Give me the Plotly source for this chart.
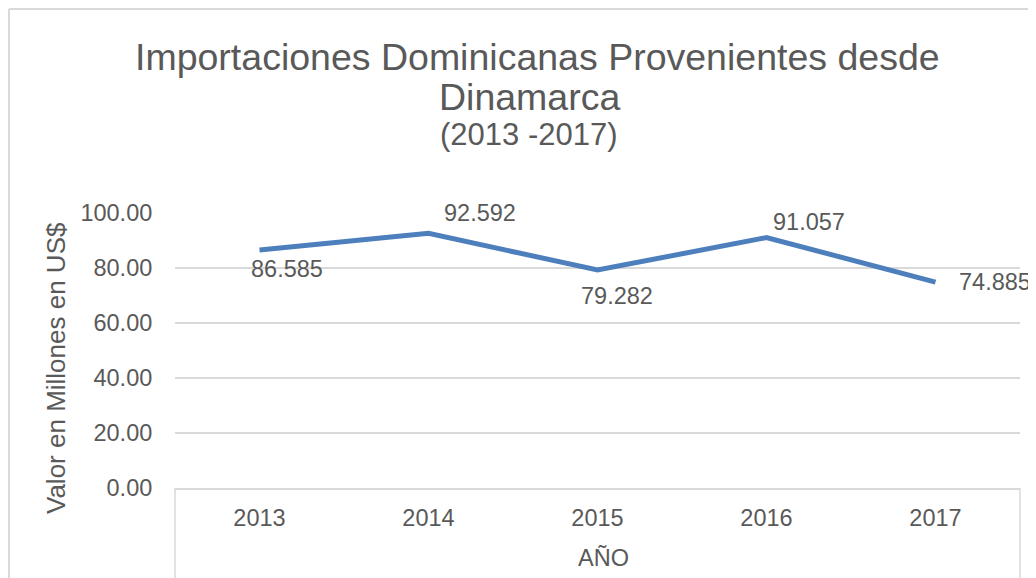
import plotly.graph_objects as go

years = ["2013", "2014", "2015", "2016", "2017"]
values = [86.585, 92.592, 79.282, 91.057, 74.885]
value_labels = ["86.585", "92.592", "79.282", "91.057", "74.885"]
y_ticks = [0, 20, 40, 60, 80, 100]

# label offsets in pixels (dx, dy) relative to the point
label_offsets = [(27, -19), (51, 20), (19, -26), (42, 16), (59, 0)]

# page body has an 8px margin; target picture coordinates are shifted by it
OFF = 8
W, H = 1036 - OFF, 578 - OFF
L, R, T, B = 175 - OFF, 16, 213 - OFF, 90
pw = W - L - R
ph = H - T - B

TXT = "#595959"
GRID = "#D9D9D9"
FONT = "Liberation Sans, Arial, sans-serif"

fig = go.Figure()
fig.add_trace(go.Scatter(
    x=years, y=values, mode="lines",
    line=dict(color="#4E7FBD", width=5),
    hoverinfo="skip", showlegend=False,
))

annotations = []
for i, (v, lab, (dx, dy)) in enumerate(zip(values, value_labels, label_offsets)):
    annotations.append(dict(
        x=i, y=v, xref="x", yref="y", text=lab, showarrow=False,
        xanchor="center", yanchor="middle",
        xshift=dx, yshift=dy, font=dict(size=23.5, color=TXT, family=FONT),
    ))

def px_x(p):
    return (p - OFF - L) / pw

def px_y(p):
    return (H - B - (p - OFF)) / ph

def ann(text, x, y, size, **kw):
    d = dict(x=px_x(x), y=px_y(y), xref="paper", yref="paper", showarrow=False,
             xanchor="center", yanchor="middle", text=text,
             font=dict(size=size, color=TXT, family=FONT))
    d.update(kw)
    return d

annotations += [
    ann("Importaciones Dominicanas Provenientes desde", 537, 57, 37.5),
    ann("Dinamarca", 529, 97, 37.5),
    ann("(2013 -2017)", 529, 135, 31),
    ann("Valor en Millones en US$", 56, 368, 26, textangle=-90),
    ann("AÑO", 603, 558, 23.5),
]

shapes = [
    dict(type="line", xref="paper", yref="paper", x0=px_x(9), x1=px_x(1060), y0=px_y(9), y1=px_y(9),
         line=dict(color=GRID, width=2)),
    dict(type="line", xref="paper", yref="paper", x0=px_x(9), x1=px_x(9), y0=px_y(9), y1=px_y(600),
         line=dict(color=GRID, width=2)),
    dict(type="line", xref="paper", yref="paper", x0=0, x1=0, y0=0, y1=px_y(600),
         line=dict(color=GRID, width=1.5)),
    dict(type="line", xref="paper", yref="paper", x0=1, x1=1, y0=0, y1=px_y(600),
         line=dict(color=GRID, width=1.5)),
]

fig.update_layout(
    width=W, height=H,
    margin=dict(l=L, r=R, t=T, b=B, pad=0),
    paper_bgcolor="white", plot_bgcolor="white",
    annotations=annotations, shapes=shapes,
    font=dict(family=FONT, color=TXT),
)
fig.update_xaxes(
    type="category", range=[-0.5, 4.5], showgrid=False, zeroline=False,
    showline=True, linecolor=GRID, linewidth=1.5,
    ticks="outside", ticklen=0, ticklabelstandoff=8,
    tickfont=dict(size=23.5, color=TXT, family=FONT),
)
fig.update_yaxes(
    range=[0, 100], tickvals=y_ticks, tickformat=".2f",
    showgrid=True, gridcolor=GRID, gridwidth=1.5, zeroline=False, showline=False,
    ticks="outside", ticklen=0, ticklabelstandoff=17,
    tickfont=dict(size=23.5, color=TXT, family=FONT),
)

fig.write_html("out.html")
